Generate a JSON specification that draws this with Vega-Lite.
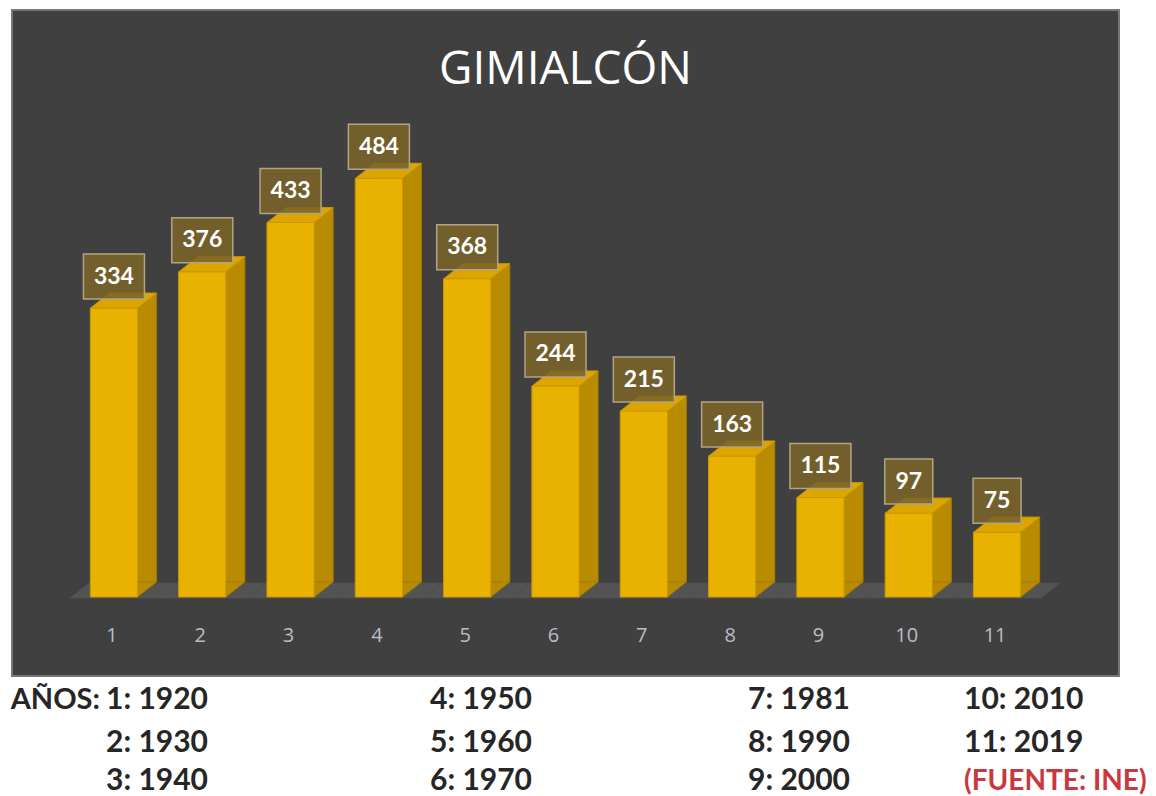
{
  "$schema": "https://vega.github.io/schema/vega-lite/v6.json",
  "background": "#ffffff",
  "padding": {"left": 10, "top": 9, "right": 0, "bottom": 0},
  "spacing": 1,
  "config": {"view": {"stroke": null}},
  "vconcat": [
    {
      "width": 1107,
      "height": 666,
      "view": {"fill": "#404040", "stroke": "#767676", "strokeWidth": 2},
      "title": {
        "text": "GIMIALCÓN",
        "font": "Open Sans",
        "fontSize": 46,
        "fontWeight": "normal",
        "color": "#ffffff",
        "anchor": "middle",
        "frame": "group",
        "baseline": "alphabetic",
        "offset": -120
      },
      "data": {
        "values": [
          {"n": "1", "p": 334},
          {"n": "2", "p": 376},
          {"n": "3", "p": 433},
          {"n": "4", "p": 484},
          {"n": "5", "p": 368},
          {"n": "6", "p": 244},
          {"n": "7", "p": 215},
          {"n": "8", "p": 163},
          {"n": "9", "p": 115},
          {"n": "10", "p": 97},
          {"n": "11", "p": 75}
        ]
      },
      "encoding": {
        "x": {
          "field": "n",
          "type": "ordinal",
          "sort": null,
          "scale": {"paddingInner": 0.465, "paddingOuter": 1.033, "align": 0.4435, "round": false},
          "axis": {
            "orient": "bottom",
            "offset": -41,
            "title": null,
            "domain": false,
            "ticks": false,
            "tickSize": 0,
            "grid": false,
            "labelPadding": 0,
            "labelAngle": 0,
            "labelBaseline": "middle",
            "labelFont": "Open Sans",
            "labelFontSize": 20,
            "labelColor": "#b9bec6",
            "labelOffset": -2
          }
        }
      },
      "layer": [
        {
          "mark": {"type": "point", "filled": true, "size": 10000, "opacity": 1,
                   "shape": "M -0.878 0.02 L 0.878 0.02 L 1.258 -0.28 L -0.498 -0.28 Z",
                   "fill": "#535353", "stroke": "#535353", "strokeWidth": 0.6},
          "encoding": {"y": {"datum": 0, "type": "quantitative", "scale": {"domain": [-91.3, 678.6], "nice": false, "zero": false}, "axis": null}}
        },
        {
          "mark": {"type": "bar", "fill": "#b98b00", "stroke": "#a67c00", "strokeWidth": 0.8, "xOffset": 19, "yOffset": -15, "y2Offset": -15},
          "encoding": {
            "y": {"field": "p", "type": "quantitative"},
            "y2": {"datum": 0}
          }
        },
        {
          "mark": {"type": "point", "filled": true, "size": 10000, "opacity": 1,
                   "shape": "M 0.47 0 L 0.47 -0.3 L 0.85 -0.3 Z",
                   "fill": "#b98b00", "stroke": "#a67c00", "strokeWidth": 0.8},
          "encoding": {"y": {"datum": 0, "type": "quantitative"}}
        },
        {
          "mark": {"type": "bar", "fill": "#eab200", "stroke": "#c99700", "strokeWidth": 1},
          "encoding": {
            "y": {"field": "p", "type": "quantitative"},
            "y2": {"datum": 0}
          }
        },
        {
          "mark": {"type": "point", "filled": true, "size": 10000, "opacity": 1,
                   "shape": "M -0.47 0 L 0.47 0 L 0.85 -0.3 L -0.09 -0.3 Z",
                   "fill": "#dca500", "stroke": "#c99700", "strokeWidth": 0.8},
          "encoding": {"y": {"field": "p", "type": "quantitative"}}
        },
        {
          "mark": {"type": "point", "filled": true, "size": 10000, "opacity": 1,
                   "fill": "#7a6328", "fillOpacity": 0.88, "stroke": "#b3a583", "strokeWidth": 1.5},
          "encoding": {
            "y": {"field": "p", "type": "quantitative"},
            "shape": {
              "condition": {"test": "datum.p < 100", "value": "M -0.48 -1.08 L 0.48 -1.08 L 0.48 -0.18 L -0.48 -0.18 Z"},
              "value": "M -0.61 -1.08 L 0.61 -1.08 L 0.61 -0.18 L -0.61 -0.18 Z"
            }
          }
        },
        {
          "mark": {"type": "text", "font": "Lato", "fontWeight": "bold", "fontSize": 23, "fill": "#ffffff", "baseline": "middle", "align": "center", "dy": -31.5},
          "encoding": {
            "y": {"field": "p", "type": "quantitative"},
            "text": {"field": "p", "type": "quantitative"}
          }
        }
      ]
    },
    {
      "width": 1107,
      "height": 119,
      "view": {"fill": null, "stroke": null},
      "data": {
        "values": [
          {"t": "AÑOS:", "c": 0, "r": 0},
          {"t": "1: 1920", "c": 1, "r": 0},
          {"t": "2: 1930", "c": 1, "r": 1},
          {"t": "3: 1940", "c": 1, "r": 2},
          {"t": "4: 1950", "c": 2, "r": 0},
          {"t": "5: 1960", "c": 2, "r": 1},
          {"t": "6: 1970", "c": 2, "r": 2},
          {"t": "7: 1981", "c": 3, "r": 0},
          {"t": "8: 1990", "c": 3, "r": 1},
          {"t": "9: 2000", "c": 3, "r": 2},
          {"t": "10: 2010", "c": 4, "r": 0},
          {"t": "11: 2019", "c": 4, "r": 1},
          {"t": "(FUENTE: INE)", "c": 4, "r": 2}
        ]
      },
      "encoding": {
        "x": {"field": "c", "type": "quantitative", "scale": {"type": "linear", "domain": [0, 1, 2, 3, 4], "range": [88, 94, 418, 736, 952], "nice": false, "zero": false}, "axis": null},
        "y": {"field": "r", "type": "quantitative", "scale": {"type": "linear", "domain": [0, 1, 2], "range": [31, 74, 112], "nice": false, "zero": false}, "axis": null},
        "text": {"field": "t", "type": "nominal"}
      },
      "layer": [
        {
          "transform": [{"filter": "datum.c == 0"}],
          "mark": {"type": "text", "font": "Lato", "fontWeight": "bold", "fontSize": 29, "align": "right", "baseline": "alphabetic", "fill": "#262626"}
        },
        {
          "transform": [{"filter": "datum.c > 0 && datum.t != '(FUENTE: INE)'"}],
          "mark": {"type": "text", "font": "Lato", "fontWeight": "bold", "fontSize": 30, "align": "left", "baseline": "alphabetic", "fill": "#262626"}
        },
        {
          "transform": [{"filter": "datum.t == '(FUENTE: INE)'"}],
          "mark": {"type": "text", "font": "Lato", "fontWeight": "bold", "fontSize": 28, "align": "left", "baseline": "alphabetic", "fill": "#c8383c"}
        }
      ]
    }
  ]
}
